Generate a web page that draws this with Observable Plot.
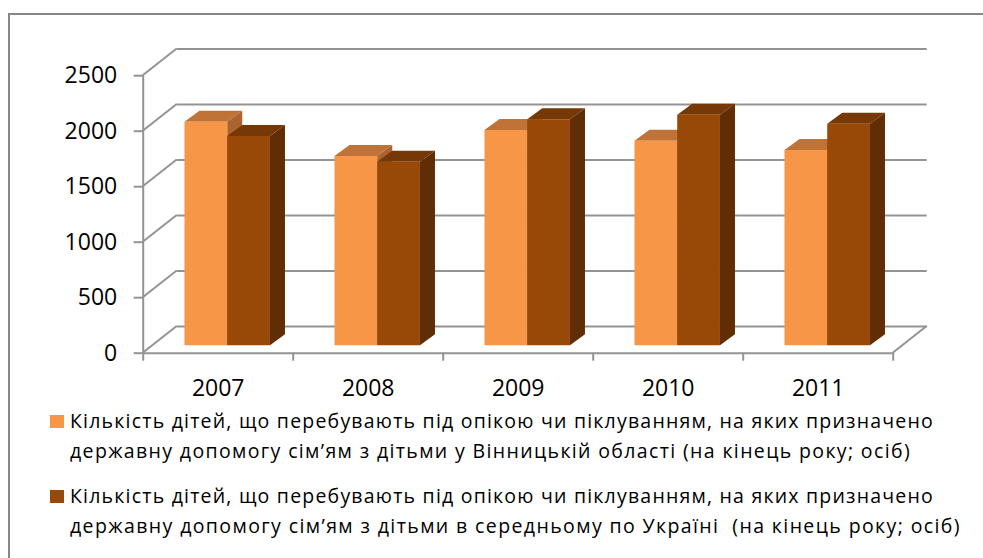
<!DOCTYPE html>
<html><head><meta charset="utf-8">
<script src="https://cdn.jsdelivr.net/npm/d3@7"></script>
<script src="https://cdn.jsdelivr.net/npm/@observablehq/plot@0.6"></script>
<style>
html,body{margin:0;padding:0;background:#fff;overflow:hidden;width:983px;height:558px;}
#frame{position:absolute;left:8px;top:13px;width:1100px;height:700px;border-top:2px solid #878787;border-left:2px solid #878787;}
#chart{position:absolute;left:0;top:0;}
#legend{position:absolute;left:0;top:0;font-family:'Open Sans',sans-serif;font-size:19.5px;color:#000;}
.item{position:absolute;left:70px;white-space:pre;line-height:30px;}
.line{display:block;height:30px;}
.sw{position:absolute;left:-20px;top:9px;width:14px;height:13px;}
</style></head><body>
<div id="frame"></div><div id="chart"></div><div id="legend"></div>
<script>
const years = ["2007", "2008", "2009", "2010", "2011"];
const vinnytsia = [2013, 1705, 1939, 1842, 1759];
const ukraine = [1885, 1653, 2035, 2077, 1995];
const yTicks = [0, 500, 1000, 1500, 2000, 2500];
const seriesNames = [
  ["Кількість дітей, що перебувають під опікою чи піклуванням, на яких призначено",
   "державну допомогу сім’ям з дітьми у Вінницькій області (на кінець року; осіб)"],
  ["Кількість дітей, що перебувають під опікою чи піклуванням, на яких призначено",
   "державну допомогу сім’ям з дітьми в середньому по Україні  (на кінець року; осіб)"]
];
const frontColors = ["#F79646", "#984807"];
const topColors = ["#BF7337", "#763806"];
const sideColors = ["#AB6430", "#612D04"];
const GRID = "#939393";

// 3D projection constants (pixels)
const D = [34, -26.7];    // full depth of the wall
const F0 = 0.28;          // bar front-face depth fraction
const B = [15, -11];      // bar depth

const rows = years.flatMap((yr, i) => [
  {i, s: 0, value: vinnytsia[i], x1: i + 0.215, x2: i + 0.5},
  {i, s: 1, value: ukraine[i], x1: i + 0.5, x2: i + 0.785}
]);

function poly(pts) { return "M" + pts.map(p => p.join(",")).join("L") + "Z"; }

function bars3d(index, scales, values) {
  const g = d3.create("svg:g");
  const X1 = values.x1, X2 = values.x2, Y1 = values.y1, Y2 = values.y2;
  const ox = D[0] * F0, oy = D[1] * F0;
  for (const i of index) {
    const s = rows[i].s;
    const a = X1[i] + ox, b = X2[i] + ox, t = Y2[i] + oy, bo = Y1[i] + oy;
    g.append("path").attr("d", poly([[a, t], [b, t], [b + B[0], t + B[1]], [a + B[0], t + B[1]]])).attr("fill", topColors[s]);
    g.append("path").attr("d", poly([[b, t], [b + B[0], t + B[1]], [b + B[0], bo + B[1]], [b, bo]])).attr("fill", sideColors[s]);
  }
  for (const i of index) {
    const s = rows[i].s;
    const a = X1[i] + ox, b = X2[i] + ox, t = Y2[i] + oy, bo = Y1[i] + oy;
    g.append("path").attr("d", poly([[a, t], [b, t], [b, bo], [a, bo]])).attr("fill", frontColors[s]);
  }
  return g.node();
}

function depthLines(data, opts) {
  return Plot.dot(data, {...opts, render(index, scales, values) {
    const g = d3.create("svg:g");
    for (const i of index) {
      g.append("line")
        .attr("x1", values.x[i]).attr("y1", values.y[i])
        .attr("x2", values.x[i] + D[0]).attr("y2", values.y[i] + D[1])
        .attr("stroke", GRID).attr("stroke-width", 2);
    }
    return g.node();
  }});
}

const chart = Plot.plot({
  width: 983,
  height: 405,
  marginLeft: 142.7,
  marginRight: 90.3,
  marginTop: 75.2,
  marginBottom: 52.3,
  x: {domain: [0, 5]},
  y: {domain: [0, 2500]},
  style: {fontFamily: "'Open Sans', sans-serif", fontSize: "23px", background: "transparent", overflow: "visible", color: "#000"},
  marks: [
    Plot.ruleY(yTicks, {x1: 0, x2: 5, dx: D[0], dy: D[1], stroke: GRID, strokeWidth: 2}),
    depthLines(yTicks, {x: () => 0, y: d => d}),
    depthLines([0], {x: () => 5, y: d => d}),
    Plot.ruleY([0], {x1: 0, x2: 5, stroke: GRID, strokeWidth: 2}),
    Plot.ruleX([0], {y1: 0, y2: 2500, stroke: GRID, strokeWidth: 2}),
    Plot.rect(rows, {x1: "x1", x2: "x2", y1: 0, y2: "value", render: bars3d}),
    Plot.axisY(yTicks, {tickSize: 9, tickPadding: 17, tickFormat: d => String(d), stroke: GRID, strokeWidth: 2, fill: "#000", label: null}),
    Plot.axisX([0, 1, 2, 3, 4, 5], {tickSize: 8, tickFormat: () => "", stroke: GRID, strokeWidth: 2, label: null}),
    Plot.axisX(years.map((_, i) => i + 0.5), {tickSize: 0, tickPadding: 26, tickFormat: d => years[Math.floor(d)], fill: "#000", label: null})
  ]
});
document.getElementById("chart").appendChild(chart);

// legend
const legend = document.getElementById("legend");
const canvas = document.createElement("canvas");
const ctx = canvas.getContext("2d");
ctx.font = "19.5px 'Open Sans'";
const lineWidths = [[864, 841], [864, 891]];
const itemTops = [406.3, 481.3];
seriesNames.forEach((lines, k) => {
  const div = document.createElement("div");
  div.className = "item";
  div.style.top = itemTops[k] + "px";
  lines.forEach((txt, j) => {
    const span = document.createElement("span");
    span.className = "line";
    const w = ctx.measureText(txt).width;
    span.style.letterSpacing = ((lineWidths[k][j] - w) / txt.length) + "px";
    span.textContent = txt;
    div.appendChild(span);
  });
  const sw = document.createElement("div");
  sw.className = "sw";
  sw.style.background = frontColors[k];
  div.appendChild(sw);
  legend.appendChild(div);
});
</script>
</body></html>
